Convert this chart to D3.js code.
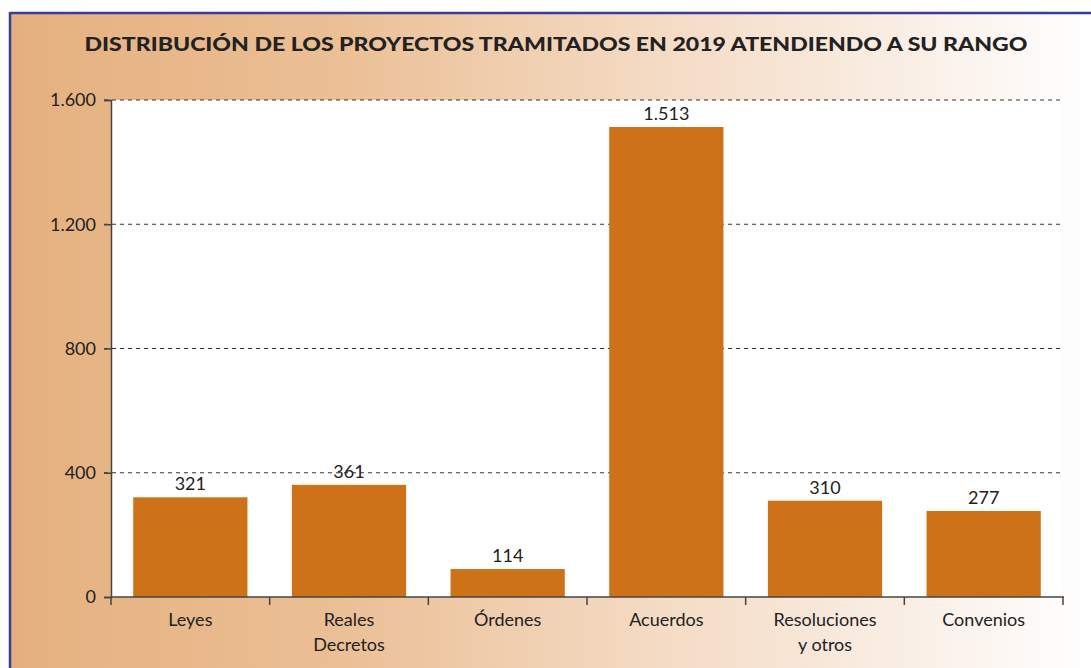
<!DOCTYPE html>
<meta charset="utf-8">
<html>
<head>
<script src="https://cdn.jsdelivr.net/npm/d3@7"></script>
<style>
  body { margin: 0; background: #fff; }
  svg { display: block; font-family: Lato, "Open Sans", sans-serif; }
</style>
</head>
<body>
<div id="chart"></div>
<script>
// data
var categories = [["Leyes"], ["Reales", "Decretos"], ["Órdenes"], ["Acuerdos"], ["Resoluciones", "y otros"], ["Convenios"]];
var values = [321, 361, 90, 1513, 310, 277];
var valueLabels = ["321", "361", "114", "1.513", "310", "277"];
var yTicks = [0, 400, 800, 1200, 1600];
var title = "DISTRIBUCIÓN DE LOS PROYECTOS TRAMITADOS EN 2019 ATENDIENDO A SU RANGO";

var W = 1091, H = 668;
var margin = {top: 100, right: 28, bottom: 71, left: 111},
    width = W - margin.left - margin.right,
    height = H - margin.top - margin.bottom;

var svg = d3.select("#chart").append("svg")
  .attr("width", W).attr("height", H);

// background gradient
var grad = svg.append("defs").append("linearGradient")
  .attr("id", "bg").attr("x1", 0).attr("x2", 1).attr("y1", 0).attr("y2", 0);
grad.append("stop").attr("offset", "0%").attr("stop-color", "#e5b07f");
grad.append("stop").attr("offset", "30%").attr("stop-color", "#ebbf95");
grad.append("stop").attr("offset", "60%").attr("stop-color", "#f4dbc4");
grad.append("stop").attr("offset", "85%").attr("stop-color", "#faf0e8");
grad.append("stop").attr("offset", "100%").attr("stop-color", "#ffffff");

svg.append("rect").attr("x", 10).attr("y", 13).attr("width", W - 10).attr("height", H - 13)
  .attr("fill", "url(#bg)");
// frame lines top and left
svg.append("line").attr("x1", 10).attr("x2", W).attr("y1", 13).attr("y2", 13)
  .attr("stroke", "#3b3b9c").attr("stroke-width", 2.5);
svg.append("line").attr("x1", 10).attr("x2", 10).attr("y1", 12).attr("y2", H)
  .attr("stroke", "#3b3b9c").attr("stroke-width", 2.5);

svg.append("text")
  .attr("x", 556).attr("y", 51)
  .attr("text-anchor", "middle")
  .attr("textLength", 943).attr("lengthAdjust", "spacingAndGlyphs")
  .style("font-size", "19px").style("font-weight", "900").attr("fill", "#222")
  .text(title);

var g = svg.append("g").attr("transform", "translate(" + margin.left + "," + margin.top + ")");

// plot area
g.append("rect").attr("width", width).attr("height", height).attr("fill", "#fff");

var x = d3.scaleBand().domain(d3.range(categories.length)).range([0, width]).padding(0);
var y = d3.scaleLinear().domain([0, 1600]).range([height, 0]);

// gridlines
g.selectAll(".grid").data(yTicks.filter(function(d) { return d > 0; }))
  .enter().append("line")
  .attr("x1", -7).attr("x2", width)
  .attr("y1", function(d) { return y(d); }).attr("y2", function(d) { return y(d); })
  .attr("stroke", "#333").attr("stroke-width", 1).attr("stroke-dasharray", "4,4");

// bars
var bw = x.bandwidth() * 0.72;
g.selectAll(".bar").data(values).enter().append("rect")
  .attr("x", function(d, i) { return x(i) + (x.bandwidth() - bw) / 2; })
  .attr("y", function(d) { return y(d); })
  .attr("width", bw)
  .attr("height", function(d) { return height - y(d); })
  .attr("fill", "#cd7219");

// value labels
g.selectAll(".vl").data(values).enter().append("text")
  .attr("x", function(d, i) { return x(i) + x.bandwidth() / 2; })
  .attr("y", function(d) { return y(d) - 7; })
  .attr("text-anchor", "middle")
  .style("font-size", "18px").attr("fill", "#222")
  .text(function(d, i) { return valueLabels[i]; });

// y axis
var yAxis = g.append("g")
  .call(d3.axisLeft(y).tickValues(yTicks).tickSize(7).tickPadding(8)
    .tickFormat(function(d) { return d3.format(",")(d).replace(",", "."); }));
yAxis.select(".domain").attr("stroke", "#444").attr("stroke-width", 1.5);
yAxis.selectAll(".tick line").attr("stroke", "#444").attr("stroke-width", 1.5);
yAxis.selectAll(".tick text").style("font-size", "18px").style("font-family", "Lato, sans-serif").attr("fill", "#222");

// x axis
var xAxis = g.append("g").attr("transform", "translate(0," + height + ")");
xAxis.append("line").attr("x1", 0).attr("x2", width + 1).attr("stroke", "#444").attr("stroke-width", 1.5);
var bounds = d3.range(categories.length + 1).map(function(i) { return i * x.step(); });
xAxis.selectAll(".xt").data(bounds).enter().append("line")
  .attr("x1", function(d) { return d; }).attr("x2", function(d) { return d; })
  .attr("y1", 0).attr("y2", 8).attr("stroke", "#444").attr("stroke-width", 1.5);
var cl = xAxis.selectAll(".cl").data(categories).enter().append("text")
  .attr("text-anchor", "middle")
  .attr("transform", function(d, i) { return "translate(" + (x(i) + x.bandwidth() / 2) + ",29)"; })
  .style("font-size", "18px").attr("fill", "#222");
cl.selectAll("tspan").data(function(d) { return d; }).enter().append("tspan")
  .attr("x", 0).attr("dy", function(d, j) { return j === 0 ? 0 : 25; })
  .text(function(d) { return d; });
</script>
</body>
</html>
